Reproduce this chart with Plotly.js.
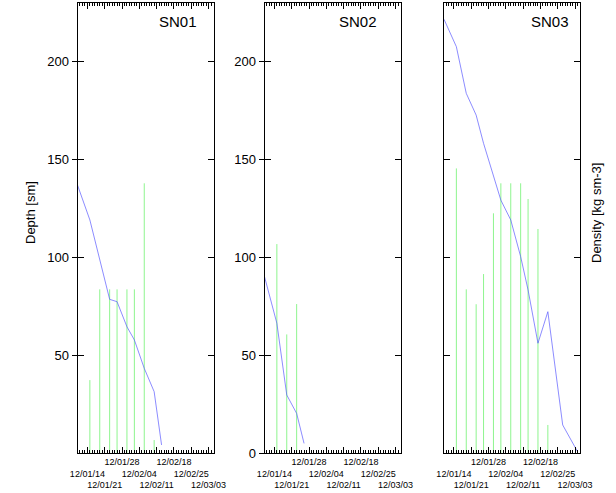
<!DOCTYPE html>
<html><head><meta charset="utf-8">
<script src="https://cdn.plot.ly/plotly-3.0.1.min.js"></script>
<style>html,body{margin:0;padding:0;background:#fff}#chart{width:616px;height:493px}</style>
</head><body><div id="chart"></div>
<script>
const panelNames = ['SN01', 'SN02', 'SN03'];

const depthDates1 = ['2012-01-10','2012-01-15','2012-01-23','2012-01-26','2012-01-30','2012-02-02','2012-02-06','2012-02-10','2012-02-13'];
const depth1 = [136.7, 118.9, 78.4, 77.2, 64.4, 57.7, 43.2, 31.3, 4.1];
const densDates1 = ['2012-01-15','2012-01-19','2012-01-23','2012-01-26','2012-01-30','2012-02-02','2012-02-06','2012-02-10'];
const dens1 = [37.2, 83.5, 83.5, 83.5, 83.5, 83.5, 137.6, 6.6];

const depthDates2 = ['2012-01-10','2012-01-15','2012-01-19','2012-01-23','2012-01-26'];
const depth2 = [90.0, 66.2, 29.6, 20.2, 4.9];
const densDates2 = ['2012-01-15','2012-01-19','2012-01-23'];
const dens2 = [106.6, 60.5, 76.0];

const depthDates3 = ['2012-01-10','2012-01-15','2012-01-19','2012-01-23','2012-01-26','2012-01-30','2012-02-02','2012-02-06','2012-02-10','2012-02-13','2012-02-17','2012-02-21','2012-02-27','2012-03-04'];
const depth3 = [221.3, 207.3, 183.5, 172.4, 158.0, 141.0, 129.0, 118.9, 100.2, 83.2, 56.0, 72.1, 14.3, 0.7];
const densDates3 = ['2012-01-15','2012-01-19','2012-01-23','2012-01-26','2012-01-30','2012-02-02','2012-02-06','2012-02-10','2012-02-13','2012-02-17','2012-02-21'];
const dens3 = [145.2, 83.5, 75.9, 91.3, 122.3, 137.6, 137.6, 137.6, 129.6, 114.3, 14.3];

const tickDates = ['2012-01-14','2012-01-21','2012-01-28','2012-02-04','2012-02-11','2012-02-18','2012-02-25','2012-03-03'];
const tickLabels = ['12/01/14','12/01/21','12/01/28','12/02/04','12/02/11','12/02/18','12/02/25','12/03/03'];
const depthTicks1 = [50, 100, 150, 200];
const depthTicks2 = [0, 50, 100, 150, 200];

const FONT = 'Liberation Sans, Arial, Helvetica, sans-serif';
const panels = [
  {dd: depthDates1, d: depth1, nd: densDates1, n: dens1},
  {dd: depthDates2, d: depth2, nd: densDates2, n: dens2},
  {dd: depthDates3, d: depth3, nd: densDates3, n: dens3}
];
const xDomains = [[77.5/616, 213.5/616], [264.5/616, 400.5/616], [444/616, 580/616]];
const yDomain = [40/493, 490/493];
const yRange = [0, 229.6];

// staggered tick labels (3 rows)
const stagTicks = tickLabels.map((t, i) => '\u00a0<br>'.repeat((i + 1) % 3) + t);

const traces = [];
const layout = {
  width: 616, height: 493,
  margin: {l: 0, r: 0, t: 0, b: 0},
  paper_bgcolor: '#fff', plot_bgcolor: '#fff',
  showlegend: false,
  font: {family: FONT, color: '#000'},
  annotations: []
};

panels.forEach((p, k) => {
  const xs = k === 0 ? 'x' : 'x' + (k + 1);
  const yb = k === 0 ? 'y' : 'y' + (k + 1);
  const yo = 'y' + (k + 4);
  const gx = [], gy = [];
  p.nd.forEach((d, i) => { gx.push(d, d, null); gy.push(0, p.n[i], null); });
  traces.push({x: gx, y: gy, xaxis: xs, yaxis: yb, type: 'scatter', mode: 'lines',
    line: {color: '#8ef58e', width: 1}, hoverinfo: 'skip'});
  traces.push({x: p.dd, y: p.d, xaxis: xs, yaxis: yo, type: 'scatter', mode: 'lines',
    line: {color: '#5a5aff', width: 0.7}});

  const xk = k === 0 ? 'xaxis' : 'xaxis' + (k + 1);
  const ybk = k === 0 ? 'yaxis' : 'yaxis' + (k + 1);
  const yok = 'yaxis' + (k + 4);
  layout[xk] = {
    type: 'date', domain: xDomains[k], anchor: yb,
    range: ['2012-01-10', '2012-03-05'],
    tickmode: 'array', tickvals: tickDates, ticktext: stagTicks,
    ticks: 'inside', ticklen: 6, tickwidth: 1, tickcolor: '#000',
    minor: {tickmode: 'linear', tick0: '2012-01-10', dtick: 86400000, ticks: 'inside', ticklen: 3, tickwidth: 1, tickcolor: '#000', showgrid: false},
    showline: true, linecolor: '#000', linewidth: 1, mirror: 'ticks',
    showgrid: false, zeroline: false, tickangle: 0,
    tickfont: {family: FONT, size: 9, color: '#000'},
    fixedrange: true
  };
  layout[ybk] = {
    domain: yDomain, anchor: xs, range: yRange,
    tickmode: 'array', tickvals: depthTicks2, showticklabels: false,
    ticks: 'inside', ticklen: 6, tickwidth: 1, tickcolor: '#000',
    showline: true, linecolor: '#000', linewidth: 1, mirror: 'ticks',
    showgrid: false, zeroline: false, fixedrange: true
  };
  const labelled = k < 2;
  layout[yok] = {
    overlaying: yb, anchor: xs, side: 'left', range: yRange,
    tickmode: 'array', tickvals: k === 0 ? depthTicks1 : depthTicks2,
    showticklabels: labelled, ticks: labelled ? 'outside' : '', ticklen: 5, tickwidth: 1, tickcolor: '#000',
    showline: false, showgrid: false, zeroline: false,
    tickfont: {family: FONT, size: 13, color: '#000'}, fixedrange: true
  };
});

const snX = [178, 358, 550];
panelNames.forEach((nm, k) => {
  layout.annotations.push({text: nm, xref: 'paper', yref: 'paper', x: snX[k] / 616, y: (493 - 21) / 493,
    xanchor: 'center', yanchor: 'middle', showarrow: false, font: {family: FONT, size: 15, color: '#000'}});
});
layout.annotations.push({text: 'Depth [sm]', xref: 'paper', yref: 'paper', x: 30 / 616, y: (493 - 213) / 493,
  xanchor: 'center', yanchor: 'middle', textangle: -90, showarrow: false, font: {family: FONT, size: 13, color: '#000'}});
layout.annotations.push({text: 'Density [kg sm-3]', xref: 'paper', yref: 'paper', x: 596 / 616, y: (493 - 213) / 493,
  xanchor: 'center', yanchor: 'middle', textangle: -90, showarrow: false, font: {family: FONT, size: 13, color: '#000'}});

Plotly.newPlot('chart', traces, layout, {staticPlot: true, displayModeBar: false});
</script>
</body></html>
